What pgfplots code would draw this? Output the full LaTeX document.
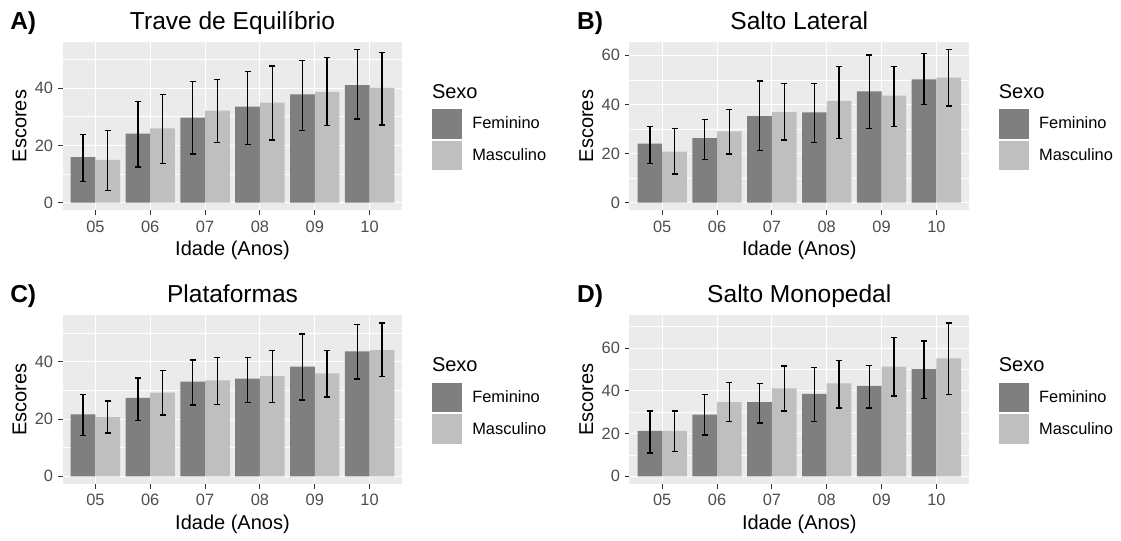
\documentclass[border=0pt]{standalone}
\usepackage{fontspec}
\setmainfont{Liberation Sans}
\usepackage{pgfplots}
\usepackage{pgfplotstable}
\pgfplotsset{compat=1.18}
\definecolor{panelbg}{HTML}{EBEBEB}
\definecolor{fem}{HTML}{7F7F7F}
\definecolor{masc}{HTML}{BFBFBF}
\definecolor{ticklab}{HTML}{4D4D4D}
\definecolor{tickc}{HTML}{333333}

\pgfplotstableread{
x f fp fm m mp mm
1 15.9 7.9 8.5 14.9 10.3 10.7
2 24.1 11.2 11.7 25.9 11.8 12.2
3 29.7 12.7 12.7 32.1 10.8 11.2
4 33.5 12.3 13.2 34.9 12.8 13.0
5 37.8 11.9 12.6 38.7 11.9 11.7
6 41.0 12.5 11.8 40.1 12.3 13.0
}\tabA
\pgfplotstableread{
x f fp fm m mp mm
1 24.0 7.1 8.0 20.8 9.3 9.1
2 26.3 7.6 8.7 29.0 8.9 9.2
3 35.2 14.3 14.0 36.9 11.6 11.4
4 36.8 11.7 12.4 41.4 14.1 15.3
5 45.3 14.8 15.2 43.6 11.9 12.5
6 50.2 10.6 10.2 50.9 11.5 11.5
}\tabB
\pgfplotstableread{
x f fp fm m mp mm
1 21.7 7.0 7.4 20.7 5.6 5.5
2 27.4 7.0 7.9 29.3 7.6 7.8
3 33.1 7.6 8.2 33.6 8.0 8.4
4 34.2 7.4 8.4 35.0 9.0 9.2
5 38.4 11.4 11.7 36.0 8.0 8.3
6 43.7 9.4 9.7 44.1 9.5 9.3
}\tabC
\pgfplotstableread{
x f fp fm m mp mm
1 21.3 9.3 10.4 21.3 9.3 9.8
2 28.9 9.3 9.6 34.7 9.3 9.2
3 34.7 8.7 9.8 41.2 10.4 10.6
4 38.6 12.4 13.1 43.5 10.8 11.5
5 42.3 9.5 10.3 51.3 13.8 13.7
6 50.1 13.2 13.7 55.2 16.5 17.0
}\tabD

\pgfplotsset{
  gg/.style={
    scale only axis, width=255pt, height=126.45pt, anchor=south west,
    xmin=0.4, xmax=6.6, xtick={1,2,3,4,5,6},
    xticklabels={05,06,07,08,09,10},
    ybar, bar width=0.45,
    axis background/.style={fill=panelbg},
    axis line style={draw=none},
    tick align=outside, major tick length=3.45pt, minor tick length=0pt,
    major tick style={color=tickc, line width=0.75pt},
    xtick pos=bottom, ytick pos=left,
    xmajorgrids, ymajorgrids, yminorgrids,
    major grid style={white, line width=0.8pt},
    minor grid style={white, line width=0.4pt},
    /pgf/number format/assume math mode=true,
    tick label style={font=\fontsize{12.3}{14}\selectfont, text=ticklab},
    yticklabel style={inner xsep=3.4pt},
    xticklabel style={inner ysep=4.2pt},
    every axis title/.style={at={(axis description cs:0.5,1)}, anchor=base, yshift=9.3pt, font=\fontsize{18.4}{20}\selectfont},
    every axis x label/.style={at={(axis description cs:0.5,-0.24)}, anchor=center, font=\fontsize{15}{18}\selectfont},
    every axis y label/.style={at={(axis description cs:-0.1265,0.5)}, rotate=90, anchor=center, font=\fontsize{15}{18}\selectfont},
    xlabel={Idade (Anos)}, ylabel={Escores},
    clip=false,
    legend style={at={(axis description cs:1.084,0.607)}, anchor=north west, draw=none, fill=none,
      inner sep=0pt, outer sep=0pt, row sep=0pt, font=\fontsize{12.3}{14}\selectfont,
      nodes={inner sep=0pt}, /tikz/every odd column/.style={column sep=7.2pt}},
    legend cell align=left,
  },
  eb/.style={error bars/.cd, y dir=both, y explicit, error mark=|,
    error bar style={black, line width=1pt},
    error mark options={black, line width=1pt, mark size=2.25pt}},
  fplot/.style={fill=fem, draw=none, bar shift=-0.225,
    legend image code/.code={\path[fill=fem, draw=white, line width=0.75pt] (0pt,-11.5pt) rectangle (23pt,11.5pt);}, eb},
  mplot/.style={fill=masc, draw=none, bar shift=0.225,
    legend image code/.code={\path[fill=masc, draw=white, line width=0.75pt] (0pt,-11.5pt) rectangle (23pt,11.5pt);}, eb},
}
\tikzset{
  tag/.style={anchor=base west, inner sep=0pt, yshift=9.3pt, font=\bfseries\fontsize{18.4}{20}\selectfont},
  legtitle/.style={anchor=base west, inner sep=0pt, font=\fontsize{15}{18}\selectfont},
}

\begin{document}
\begin{tikzpicture}
\useasboundingbox (0,0) rectangle (840.75pt,405.75pt);
% A
\begin{axis}[gg, at={(46.875pt,248pt)}, ymin=-2.675, ymax=56.175,
  ytick={0,20,40}, minor ytick={10,30,50}, title={Trave de Equilíbrio}]
\addplot[fplot] table[x=x, y=f, y error plus=fp, y error minus=fm]{\tabA};
\addlegendentry{Feminino}
\addplot[mplot] table[x=x, y=m, y error plus=mp, y error minus=mm]{\tabA};
\addlegendentry{Masculino}
\node[tag] at (axis description cs:-0.1544,1) {A)};
\node[legtitle] at (axis description cs:1.086,0.666) {Sexo};
\end{axis}
% B
\begin{axis}[gg, at={(471.98pt,248pt)}, ymin=-3.12, ymax=65.52,
  ytick={0,20,40,60}, minor ytick={10,30,50}, title={Salto Lateral}]
\addplot[fplot] table[x=x, y=f, y error plus=fp, y error minus=fm]{\tabB};
\addlegendentry{Feminino}
\addplot[mplot] table[x=x, y=m, y error plus=mp, y error minus=mm]{\tabB};
\addlegendentry{Masculino}
\node[tag] at (axis description cs:-0.1544,1) {B)};
\node[legtitle] at (axis description cs:1.086,0.666) {Sexo};
\end{axis}
% C
\begin{axis}[gg, at={(46.875pt,42.75pt)}, ymin=-2.68, ymax=56.28,
  ytick={0,20,40}, minor ytick={10,30,50}, title={Plataformas}]
\addplot[fplot] table[x=x, y=f, y error plus=fp, y error minus=fm]{\tabC};
\addlegendentry{Feminino}
\addplot[mplot] table[x=x, y=m, y error plus=mp, y error minus=mm]{\tabC};
\addlegendentry{Masculino}
\node[tag] at (axis description cs:-0.1544,1) {C)};
\node[legtitle] at (axis description cs:1.086,0.666) {Sexo};
\end{axis}
% D
\begin{axis}[gg, at={(471.98pt,42.75pt)}, ymin=-3.585, ymax=75.285,
  ytick={0,20,40,60}, minor ytick={10,30,50,70}, title={Salto Monopedal}]
\addplot[fplot] table[x=x, y=f, y error plus=fp, y error minus=fm]{\tabD};
\addlegendentry{Feminino}
\addplot[mplot] table[x=x, y=m, y error plus=mp, y error minus=mm]{\tabD};
\addlegendentry{Masculino}
\node[tag] at (axis description cs:-0.1544,1) {D)};
\node[legtitle] at (axis description cs:1.086,0.666) {Sexo};
\end{axis}
\end{tikzpicture}
\end{document}
